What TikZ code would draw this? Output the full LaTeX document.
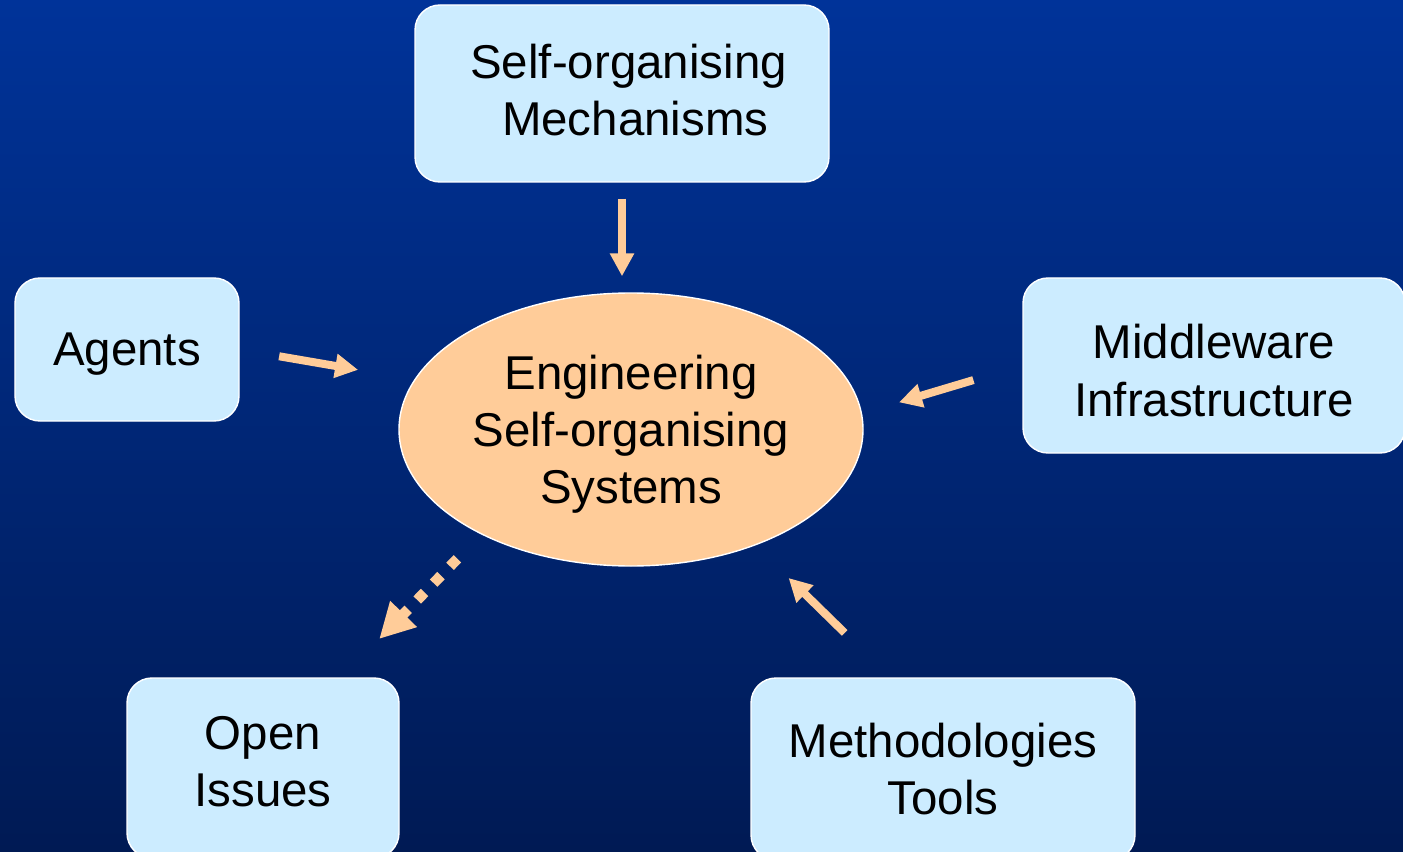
\documentclass[tikz,border=0pt]{standalone}
\usepackage{fontspec}
\setmainfont{Liberation Sans}
\usetikzlibrary{arrows.meta,shapes.geometric}

\definecolor{boxblue}{RGB}{204,236,255}
\definecolor{peach}{RGB}{255,204,153}
\definecolor{bgtop}{RGB}{0,51,153}
\definecolor{bgbottom}{RGB}{0,26,84}

\begin{document}
\begin{tikzpicture}[
    topic/.style={draw=white, line width=0.8pt, fill=boxblue, rounded corners=0.5cm,
        align=center, inner sep=0pt, text depth=0pt, font=\fontsize{27}{32.5}\selectfont},
    hub/.style={ellipse, draw=white, line width=0.8pt, fill=peach, inner sep=0pt,
        align=center, text depth=0pt, font=\fontsize{27}{32.5}\selectfont},
    flow/.style={peach, line width=0.16cm, -{Triangle[length=0.46cm,width=0.46cm]}},
    tentative/.style={peach, line width=0.21cm, dash pattern=on 0.21cm off 0.26cm,
        -{Triangle[length=0.7cm,width=0.7cm]}}
]
    % Background
    \useasboundingbox (0,0) rectangle (28.06,17.02);
    \shade[top color=bgtop, bottom color=bgbottom] (0,0) rectangle (28.06,17.02);

    % Central topic
    \node[hub, minimum width=9.28cm, minimum height=5.46cm] (core) at (12.62,8.43)
        {Engineering\\Self-organising\\Systems};

    % Surrounding topics
    \node[topic, minimum width=8.28cm, minimum height=3.54cm, text depth=4pt] (mech) at (12.44,15.15)
        {\ Self-organising\\\ \ Mechanisms};
    \node[topic, minimum width=4.48cm, minimum height=2.86cm] (agents) at (2.54,10.03)
        {Agents};
    \node[topic, minimum width=7.64cm, minimum height=3.5cm, text height=57.5pt] (middle) at (24.28,9.71)
        {Middleware\\Infrastructure};
    \node[topic, minimum width=5.44cm, minimum height=3.6cm, text depth=7.5pt] (issues) at (5.26,1.66)
        {Open\\Issues};
    \node[topic, minimum width=7.68cm, minimum height=3.64cm] (methods) at (18.86,1.64)
        {Methodologies\\Tools};

    % Contributions into the centre
    \draw[flow, shorten <=0.32cm, shorten >=0.32cm] (mech.south) -- (mech.south |- core.north);
    \draw[flow, shorten <=0.8cm, shorten >=1.14cm] (agents.east) -- (core.167);
    \draw[flow, shorten <=1.02cm, shorten >=0.77cm] (middle.west) -- (core.4);
    \draw[flow, shorten <=1.27cm, shorten >=0.93cm] (methods.120) -- (core.-43);

    % Outgoing, still open
    \draw[tentative, shorten <=0.68cm, shorten >=1.07cm] (core.215) -- (issues.49);
\end{tikzpicture}
\end{document}
